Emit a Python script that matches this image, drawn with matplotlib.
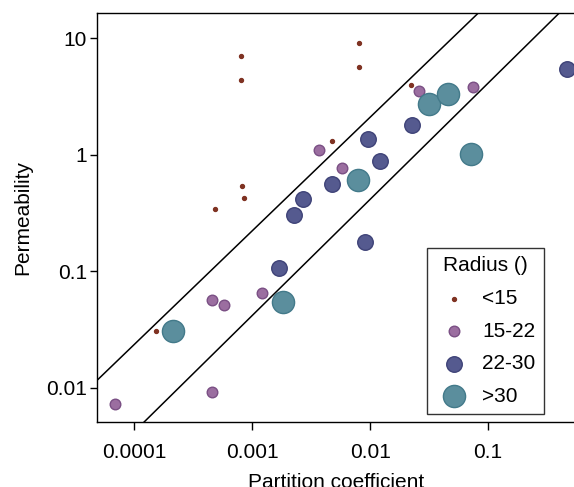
import numpy as np
import matplotlib
matplotlib.use("Agg")
import matplotlib.pyplot as plt

plt.rcParams["font.family"] = ["Liberation Sans", "DejaVu Sans"]

# ── Data: partition coefficient vs permeability, grouped by radius ────────────
groups = ["<15", "15-22", "22-30", ">30"]

x_lt15 = [8.04e-4, 8.0e-4, 0.00805, 0.00805, 0.00477, 8.2e-4, 8.5e-4, 4.83e-4, 0.0221, 1.52e-4]
y_lt15 = [7.0, 4.4, 9.06, 5.7, 1.31, 0.543, 0.424, 0.343, 3.95, 0.0309]

x_15_22 = [0.00366, 0.0058, 0.0258, 0.075, 4.56e-4, 5.79e-4, 0.00122, 4.54e-4, 6.86e-5]
y_15_22 = [1.09, 0.766, 3.51, 3.79, 0.0568, 0.0514, 0.0647, 0.00915, 0.00726]

x_22_30 = [0.0096, 0.0121, 0.00477, 0.0027, 0.00228, 0.0091, 0.0227, 0.465, 0.0017]
y_22_30 = [1.37, 0.885, 0.558, 0.418, 0.304, 0.177, 1.79, 5.42, 0.107]

x_gt30 = [0.00785, 0.0316, 0.046, 0.0718, 2.12e-4, 0.00184]
y_gt30 = [0.604, 2.75, 3.30, 1.02, 0.0309, 0.0542]

# band lines: y = A * x**m
band_A = [10 ** 2.272, 10 ** 1.611]
band_m = [0.975, 0.997]

SIZES  = [8, 58, 125, 255]
FACES  = ["#7f3222", "#9b6ea0", "#555a8f", "#5b8e9d"]
EDGES  = ["#7f3222", "#7a4f84", "#3f4378", "#437a8a"]
FS = 15

xs = [x_lt15, x_15_22, x_22_30, x_gt30]
ys = [y_lt15, y_15_22, y_22_30, y_gt30]

fig = plt.figure(figsize=(5.74, 4.87), dpi=100)
ax = fig.add_axes([0.1695, 0.1335, 0.833, 0.8392])

xlim = (4.85e-5, 0.552)
ylim = (0.00508, 16.39)

xl = np.logspace(np.log10(xlim[0]), np.log10(xlim[1]), 200)
for A, m in zip(band_A, band_m):
    ax.plot(xl, A * xl ** m, color="black", lw=1.1, zorder=1)

for lab, x, y, s, fc, ec in zip(groups, xs, ys, SIZES, FACES, EDGES):
    ax.scatter(x, y, s=s, c=fc, edgecolors=ec, linewidths=1.0, label=lab, zorder=3)

ax.set_xscale("log")
ax.set_yscale("log")
ax.set_xlim(*xlim)
ax.set_ylim(*ylim)

ax.set_xticks([1e-4, 1e-3, 1e-2, 1e-1])
ax.set_xticklabels(["0.0001", "0.001", "0.01", "0.1"])
ax.set_yticks([0.01, 0.1, 1, 10])
ax.set_yticklabels(["0.01", "0.1", "1", "10"])
ax.minorticks_off()
ax.tick_params(axis="x", direction="out", length=5.8, width=1, labelsize=FS, pad=9)
ax.tick_params(axis="y", direction="out", length=4.8, width=1, labelsize=FS, pad=2.5)

for sp in ax.spines.values():
    sp.set_linewidth(1.0)

ax.set_xlabel("Partition coefficient", fontsize=FS)
ax.set_ylabel("Permeability", fontsize=FS)
ax.xaxis.set_label_coords(0.5, -0.125)
ax.yaxis.set_label_coords(-0.1366, 0.5)

leg = ax.legend(title="Radius ()", loc="lower left", bbox_to_anchor=(0.689, 0.0196),
                borderaxespad=0, frameon=True, fancybox=False, edgecolor="black",
                fontsize=FS, title_fontsize=FS, labelspacing=0.65, handlelength=1.8,
                handletextpad=0.45, borderpad=0.4, scatterpoints=1)
leg.get_frame().set_linewidth(1.0)

fig.savefig("out.png", dpi=100)
